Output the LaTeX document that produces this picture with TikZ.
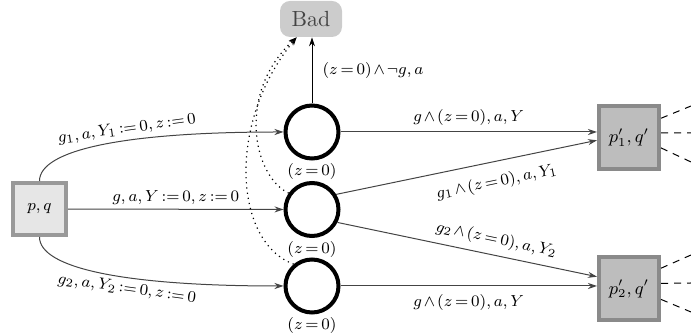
\documentclass[tikz,border=0pt]{standalone}
\usetikzlibrary{arrows.meta,calc}
\definecolor{edgec}{HTML}{444444}
\definecolor{pqfill}{HTML}{E6E6E6}
\definecolor{pqdraw}{HTML}{999999}
\definecolor{pfill}{HTML}{BDBDBD}
\definecolor{pdraw}{HTML}{8A8A8A}
\definecolor{badfill}{HTML}{CCCCCC}
\definecolor{badtext}{HTML}{444444}
\begin{document}
\thickmuskip=3mu plus 1mu
\medmuskip=2mu plus 1mu
\begin{tikzpicture}[x=0.5pt,y=-0.5pt,
  state/.style={circle,draw=black,line width=2pt,minimum size=26.5pt,inner sep=0pt},
  srcbox/.style={rectangle,draw=pqdraw,fill=pqfill,line width=2pt,minimum width=26.5pt,minimum height=26pt,inner sep=0pt,font=\footnotesize},
  tgtbox/.style={rectangle,draw=pdraw,fill=pfill,line width=2pt,minimum width=30pt,minimum height=31.5pt,inner sep=0pt,font=\small},
  badbox/.style={rectangle,rounded corners=5pt,fill=badfill,text=badtext,minimum width=31pt,minimum height=18pt,inner sep=0pt,font=\fontsize{10.95}{13}\selectfont},
  tr/.style={draw=edgec,line width=0.5pt,-{Stealth[length=4.5pt,width=3pt]}},
  lbl/.style={font=\footnotesize,inner sep=2pt},
  zlbl/.style={font=\footnotesize},
  badtr/.style={draw=black,line width=0.6pt,dotted,-{Stealth[length=4pt,width=3pt]}},
  outl/.style={draw=black,line width=0.5pt,dash pattern=on 3.5pt off 3pt}
]
\useasboundingbox (0,0) rectangle (691,335);

% nodes
\node[srcbox] (pq) at (39.5,209) {$p,q$};
\node[state,label={[zlbl,label distance=-2pt]below:$(z=0)$}] (c1) at (312,132) {};
\node[state,label={[zlbl,label distance=-2pt]below:$(z=0)$}] (c2) at (312,209.5) {};
\node[state,label={[zlbl,label distance=-2pt]below:$(z=0)$}] (c3) at (312,286) {};
\node[tgtbox] (p1) at (629,137.5) {$p'_1,q'$};
\node[tgtbox] (p2) at (629,289) {$p'_2,q'$};
\node[badbox] (Bad) at (311,19) {Bad};

% outgoing dashed stubs
\coordinate (o1a) at (691,106);
\coordinate (o1b) at (691,133);
\coordinate (o1c) at (691,162);
\coordinate (o2a) at (691,255);
\coordinate (o2b) at (691,283);
\coordinate (o2c) at (691,312);

% transitions from p,q
\draw[tr] (pq.north) .. controls +(0,-31) and +(-160,0) .. (c1.west)
  node[lbl,pos=0.6,sloped,above] {$g_1,a,Y_1:=0,z:=0$};
\draw[tr] (pq) -- (c2) node[lbl,midway,above] {$g,a,Y:=0,z:=0$};
\draw[tr] (pq.south) .. controls +(0,31) and +(-160,0) .. (c3.west)
  node[lbl,pos=0.6,sloped,below] {$g_2,a,Y_2:=0,z:=0$};

% transitions to targets
\draw[tr] (c1.east) -- (c1.east -| p1.west)
  node[lbl,midway,above=1pt] {$g\wedge(z=0),a,Y$};
\draw[tr] (c2.32) -- (p1.185)
  node[lbl,pos=0.6,sloped,below=4pt] {$g_1\wedge(z=0),a,Y_1$};
\draw[tr] (c2.-27) -- (p2.159)
  node[lbl,pos=0.6,sloped,above=1.5pt] {$g_2\wedge(z=0),a,Y_2$};
\draw[tr] (c3.east) -- (c3.east -| p2.west)
  node[lbl,midway,below=2pt] {$g\wedge(z=0),a,Y$};

% to Bad
\draw[draw=black,line width=0.5pt,-{Stealth[length=4.5pt,width=3pt]}] (c1.north) -- (c1.north |- Bad.south)
  node[lbl,midway,right=3pt] {$(z=0)\wedge\neg g,a$};
\draw[badtr] (c2.145) .. controls +(-36,-17) and +(-60,55) .. (Bad.232);
\draw[badtr] (c3.130) .. controls +(-60,-22) and +(-70,85) .. (Bad.232);

% dashed continuations
\draw[outl] (p1.31) -- (o1a);
\draw[outl] (p1.8) -- (o1b);
\draw[outl] (p1.-18) -- (o1c);
\draw[outl] (p2.33) -- (o2a);
\draw[outl] (p2.10) -- (o2b);
\draw[outl] (p2.-18) -- (o2c);
\end{tikzpicture}
\end{document}
